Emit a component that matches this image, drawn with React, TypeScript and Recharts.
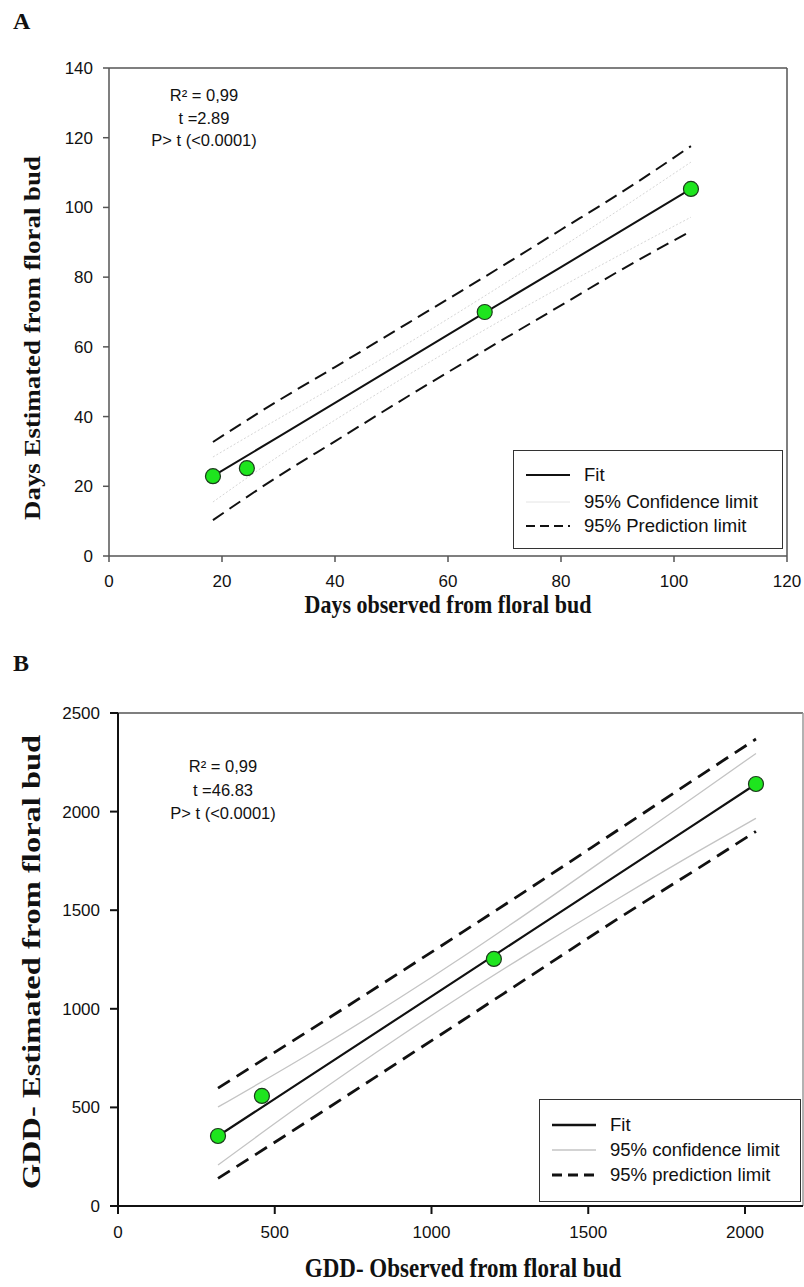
import React from "react";
import { ComposedChart, Line, Scatter, XAxis, YAxis, ReferenceLine } from "recharts";

// ---------- Panel A data ----------
const aLineX = [18.4, 30, 40, 53, 66.5, 80, 90, 103];
const aFit = [22.9, 34.2, 43.9, 56.6, 69.8, 82.9, 92.6, 105.3];
const aConfUpper = [28.4, 39.4, 48.7, 61.1, 74.6, 88.5, 99.0, 113.0];
const aConfLower = [15.5, 28.6, 39.0, 52.0, 64.9, 77.2, 86.0, 97.2];
const aPredUpper = [32.7, 44.6, 54.2, 66.9, 80.1, 93.6, 103.6, 117.6];
const aPredLower = [10.3, 22.9, 32.9, 45.9, 59.0, 71.9, 81.5, 93.2];
const aObsX = [18.4, 24.4, 66.5, 103.0];
const aObsY = [22.9, 25.2, 70.0, 105.3];
const aXTicks = [0, 20, 40, 60, 80, 100, 120];
const aYTicks = [0, 20, 40, 60, 80, 100, 120, 140];

// ---------- Panel B data ----------
const bLineX = [319, 600, 900, 1100, 1300, 1600, 1850, 2035];
const bFit = [355, 647, 959, 1167, 1375, 1687, 1947, 2140];
const bConfUpper = [502, 762, 1057, 1264, 1479, 1811, 2088, 2295];
const bConfLower = [208, 532, 861, 1070, 1271, 1563, 1798, 1966];
const bPredUpper = [598, 880, 1185, 1390, 1597, 1912, 2175, 2368];
const bPredLower = [140, 425, 735, 942, 1150, 1462, 1712, 1900];
const bObsX = [319, 459, 1199, 2035];
const bObsY = [355, 558, 1253, 2140];
const bXTicks = [0, 500, 1000, 1500, 2000];
const bYTicks = [0, 500, 1000, 1500, 2000, 2500];

const SANS = "'Liberation Sans', Arial, sans-serif";
const SERIF = "'Liberation Serif', 'Times New Roman', serif";

const aLines = aLineX.map((x, i) => ({
  x,
  fit: aFit[i],
  cu: aConfUpper[i],
  cl: aConfLower[i],
  pu: aPredUpper[i],
  pl: aPredLower[i],
}));
const aPts = aObsX.map((x, i) => ({ x, y: aObsY[i] }));

const bLines = bLineX.map((x, i) => ({
  x,
  fit: bFit[i],
  cu: bConfUpper[i],
  cl: bConfLower[i],
  pu: bPredUpper[i],
  pl: bPredLower[i],
}));
const bPts = bObsX.map((x, i) => ({ x, y: bObsY[i] }));

const dot = (p: any) => (
  <circle cx={p.cx} cy={p.cy} r={7.5} fill="#1ee51e" stroke="#1c3a1c" strokeWidth={1.2} />
);

const abs = (style: React.CSSProperties): React.CSSProperties => ({ position: "absolute", ...style });

function LegendBox(props: {
  left: number; top: number; width: number; height: number; rows: { label: string; color: string; width: number; dash?: string; y: number }[];
  border: string;
}) {
  return (
    <div
      style={abs({
        left: props.left,
        top: props.top,
        width: props.width,
        height: props.height,
        border: props.border,
        background: "#fff",
        boxSizing: "border-box",
      })}
    >
      {props.rows.map((r, i) => (
        <div key={i} style={abs({ left: 0, top: r.y - 12, height: 24, width: props.width - 4, display: "flex", alignItems: "center" })}>
          <svg width={70} height={24} style={{ flex: "none" }}>
            <line x1={12} x2={56} y1={12} y2={12} stroke={r.color} strokeWidth={r.width} strokeDasharray={r.dash} />
          </svg>
          <span style={{ fontFamily: SANS, fontSize: 18.5, color: "#111", whiteSpace: "nowrap" }}>{r.label}</span>
        </div>
      ))}
    </div>
  );
}

export default function App() {
  const tickStyle = { fontFamily: SANS, fontSize: 17, fill: "#111" };
  return (
    <div style={abs({ left: 0, top: 0, width: 804, height: 1287, background: "#fff", overflow: "hidden" })}>
      {/* Panel A */}
      <div style={abs({ left: 0, top: 0, width: 804, height: 640 })}>
        <ComposedChart width={804} height={640} data={aLines} margin={{ top: 68, right: 17, left: 49, bottom: 54 }}>
          <XAxis
            type="number"
            dataKey="x"
            domain={[0, 120]}
            ticks={aXTicks}
            allowDataOverflow
            height={30}
            tick={tickStyle}
            tickSize={6}
            tickMargin={13}
            stroke="#555"
            strokeWidth={1.5}
          />
          <YAxis
            type="number"
            domain={[0, 140]}
            ticks={aYTicks}
            width={60}
            tick={tickStyle}
            tickSize={6}
            tickMargin={10}
            stroke="#555"
            strokeWidth={1.5}
          />
          <ReferenceLine y={140} stroke="#555" strokeWidth={1.5} />
          <ReferenceLine x={120} stroke="#555" strokeWidth={1.5} />
          <Line dataKey="cu" type="monotone" stroke="#d6d6d6" strokeWidth={1} strokeDasharray="2 2" dot={false} activeDot={false} isAnimationActive={false} />
          <Line dataKey="cl" type="monotone" stroke="#d6d6d6" strokeWidth={1} strokeDasharray="2 2" dot={false} activeDot={false} isAnimationActive={false} />
          <Line dataKey="pu" type="monotone" stroke="#111" strokeWidth={2} strokeDasharray="13 7" dot={false} activeDot={false} isAnimationActive={false} />
          <Line dataKey="pl" type="monotone" stroke="#111" strokeWidth={2} strokeDasharray="13 7" dot={false} activeDot={false} isAnimationActive={false} />
          <Line dataKey="fit" type="linear" stroke="#111" strokeWidth={2} dot={false} activeDot={false} isAnimationActive={false} />
          <Scatter data={aPts} dataKey="y" shape={dot} isAnimationActive={false} />
        </ComposedChart>
      </div>

      {/* Panel B */}
      <div style={abs({ left: 0, top: 640, width: 804, height: 640 })}>
        <ComposedChart width={804} height={640} data={bLines} margin={{ top: 73, right: 1, left: 58, bottom: 36 }}>
          <XAxis
            type="number"
            dataKey="x"
            domain={[0, 2185]}
            ticks={bXTicks}
            allowDataOverflow
            height={38}
            tick={tickStyle}
            tickSize={8}
            tickMargin={12}
            stroke="#111"
            strokeWidth={2}
          />
          <YAxis
            type="number"
            domain={[0, 2500]}
            ticks={bYTicks}
            width={60}
            tick={tickStyle}
            tickSize={8}
            tickMargin={10}
            stroke="#111"
            strokeWidth={2}
          />
          <ReferenceLine y={2500} stroke="#555" strokeWidth={1.5} />
          <ReferenceLine x={2185} stroke="#999" strokeWidth={1.5} />
          <Line dataKey="cu" type="monotone" stroke="#c4c4c4" strokeWidth={1.3} dot={false} activeDot={false} isAnimationActive={false} />
          <Line dataKey="cl" type="monotone" stroke="#c4c4c4" strokeWidth={1.3} dot={false} activeDot={false} isAnimationActive={false} />
          <Line dataKey="pu" type="monotone" stroke="#111" strokeWidth={2.8} strokeDasharray="14 8" dot={false} activeDot={false} isAnimationActive={false} />
          <Line dataKey="pl" type="monotone" stroke="#111" strokeWidth={2.8} strokeDasharray="14 8" dot={false} activeDot={false} isAnimationActive={false} />
          <Line dataKey="fit" type="linear" stroke="#111" strokeWidth={2.2} dot={false} activeDot={false} isAnimationActive={false} />
          <Scatter data={bPts} dataKey="y" shape={dot} isAnimationActive={false} />
        </ComposedChart>
      </div>

      {/* Panel letters */}
      <div style={abs({ left: 13, top: 8, fontFamily: SERIF, fontWeight: "bold", fontSize: 24, color: "#111" })}>A</div>
      <div style={abs({ left: 13, top: 650, fontFamily: SERIF, fontWeight: "bold", fontSize: 24, color: "#111" })}>B</div>

      {/* Annotations A */}
      <div style={abs({ left: 104, top: 84, width: 200, textAlign: "center", fontFamily: SANS, fontSize: 16.5, lineHeight: "22.5px", color: "#111" })}>
        <div>R² = 0,99</div>
        <div>t =2.89</div>
        <div>P&gt; t (&lt;0.0001)</div>
      </div>
      {/* Annotations B */}
      <div style={abs({ left: 123, top: 755, width: 200, textAlign: "center", fontFamily: SANS, fontSize: 16.5, lineHeight: "23.5px", color: "#111" })}>
        <div>R² = 0,99</div>
        <div>t =46.83</div>
        <div>P&gt; t (&lt;0.0001)</div>
      </div>

      {/* Axis titles A */}
      <div style={abs({ left: 148, top: 593, width: 600, textAlign: "center", fontFamily: SERIF, fontWeight: "bold", fontSize: 22, lineHeight: "24px", color: "#111", transform: "scaleY(1.15)" })}>
        Days observed from floral bud
      </div>
      <div
        style={abs({
          left: 32 - 300,
          top: 338 - 15,
          width: 600,
          height: 30,
          lineHeight: "30px",
          textAlign: "center",
          fontFamily: SERIF,
          fontWeight: "bold",
          fontSize: 24,
          color: "#111",
          transform: "rotate(-90deg) scaleX(1.12)",
        })}
      >
        Days Estimated from floral bud
      </div>

      {/* Axis titles B */}
      <div style={abs({ left: 163, top: 1256, width: 600, textAlign: "center", fontFamily: SERIF, fontWeight: "bold", fontSize: 23, lineHeight: "25px", color: "#111", transform: "scaleY(1.15)" })}>
        GDD- Observed from floral bud
      </div>
      <div
        style={abs({
          left: 32 - 300,
          top: 962 - 15,
          width: 600,
          height: 30,
          lineHeight: "30px",
          textAlign: "center",
          fontFamily: SERIF,
          fontWeight: "bold",
          fontSize: 25,
          color: "#111",
          transform: "rotate(-90deg) scaleX(1.3)",
        })}
      >
        GDD- Estimated from floral bud
      </div>

      {/* Legends */}
      <LegendBox
        left={513}
        top={450}
        width={270}
        height={99}
        border="1.5px solid #333"
        rows={[
          { label: "Fit", color: "#111", width: 2, y: 24 },
          { label: "95% Confidence limit", color: "#e4e4e4", width: 1, y: 51 },
          { label: "95% Prediction limit", color: "#111", width: 2, dash: "9 5", y: 75 },
        ]}
      />
      <LegendBox
        left={539}
        top={1099}
        width={262}
        height={103}
        border="1.5px solid #333"
        rows={[
          { label: "Fit", color: "#111", width: 2.5, y: 25 },
          { label: "95% confidence limit", color: "#c4c4c4", width: 1.3, y: 50 },
          { label: "95% prediction limit", color: "#111", width: 2.8, dash: "10 6", y: 75 },
        ]}
      />
    </div>
  );
}
